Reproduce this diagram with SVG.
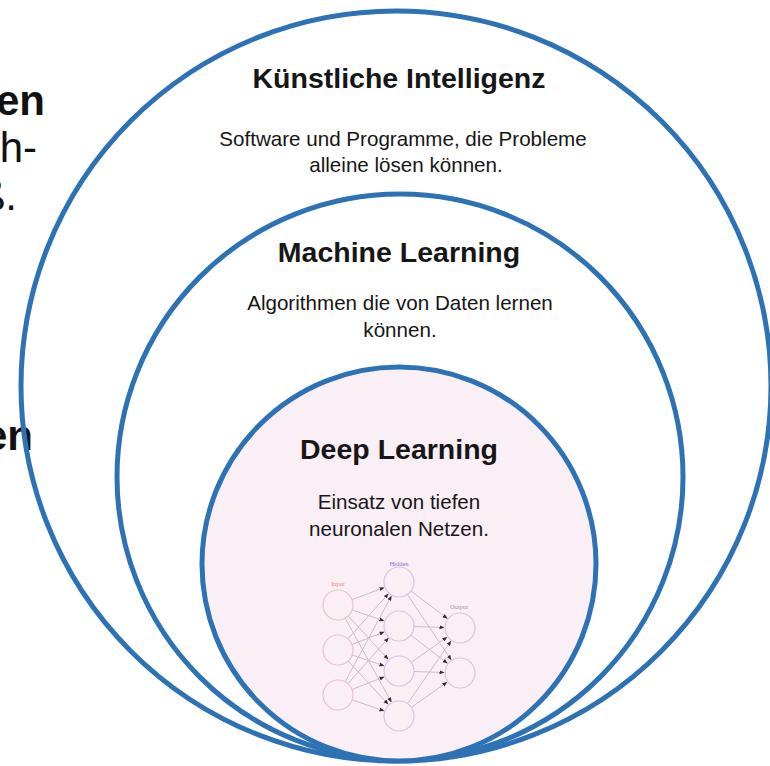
<svg xmlns="http://www.w3.org/2000/svg" width="770" height="766" viewBox="0 0 770 766">
<defs>
<style>
.t{font-family:"Liberation Sans",Arial,sans-serif;fill:#161616;text-anchor:middle}
.h{font-weight:bold;font-size:28.5px}
.s{font-size:20.6px}
.side{font-family:"Liberation Sans",Arial,sans-serif;fill:#111;font-size:42px;text-anchor:end}
.ring{fill:none;stroke:#2e72b6;stroke-width:5}
.e{stroke:#c4c1c3;stroke-width:1;fill:none;marker-end:url(#ah)}
.nl{font-family:"Liberation Serif","Times New Roman",serif;font-size:6.5px;text-anchor:middle}
</style>
<marker id="ah" viewBox="0 0 10 10" refX="9" refY="5" markerWidth="5" markerHeight="5" orient="auto" markerUnits="userSpaceOnUse">
<path d="M0,1 L10,5 L0,9 z" fill="#2e2e2e"/>
</marker>
</defs>
<rect width="770" height="766" fill="#ffffff"/>
<g id="side-text">
<text class="side" x="45" y="115" font-weight="bold">en</text>
<text class="side" x="37" y="162">ch-</text>
<text class="side" x="17" y="210">ß.</text>
<text class="side" x="33" y="450" font-weight="bold">en</text>
</g>
<g id="node-ki">
<circle class="ring" cx="396" cy="386" r="375"/>
<text class="t h" x="399" y="88">Künstliche Intelligenz</text>
<text class="t s" x="403" y="146">Software und Programme, die Probleme</text>
<text class="t s" x="406" y="172">alleine lösen können.</text>
</g>
<g id="node-ml">
<circle class="ring" cx="400" cy="477" r="283"/>
<text class="t h" x="399" y="262">Machine Learning</text>
<text class="t s" x="400" y="310">Algorithmen die von Daten lernen</text>
<text class="t s" x="400" y="337">können.</text>
</g>
<g id="node-dl">
<circle cx="399" cy="564" r="197" fill="#fbeff6" stroke="#2e72b6" stroke-width="5"/>
<text class="t h" x="399" y="459">Deep Learning</text>
<text class="t s" x="399" y="509">Einsatz von tiefen</text>
<text class="t s" x="399" y="536">neuronalen Netzen.</text>
</g>
<g id="connectors">
<line class="e" x1="352.0" y1="599.7" x2="384.0" y2="587.6"/>
<line class="e" x1="352.2" y1="609.9" x2="383.9" y2="620.8"/>
<line class="e" x1="348.2" y1="616.0" x2="388.1" y2="659.2"/>
<line class="e" x1="345.2" y1="618.1" x2="391.3" y2="702.0"/>
<line class="e" x1="348.0" y1="638.8" x2="388.3" y2="593.9"/>
<line class="e" x1="352.0" y1="644.5" x2="384.1" y2="631.9"/>
<line class="e" x1="352.2" y1="654.9" x2="383.9" y2="665.8"/>
<line class="e" x1="348.2" y1="661.0" x2="388.1" y2="704.2"/>
<line class="e" x1="345.1" y1="681.8" x2="391.4" y2="596.1"/>
<line class="e" x1="347.9" y1="683.8" x2="388.4" y2="638.0"/>
<line class="e" x1="352.0" y1="689.5" x2="384.1" y2="676.9"/>
<line class="e" x1="352.2" y1="699.9" x2="383.9" y2="710.8"/>
<line class="e" x1="411.0" y1="591.0" x2="447.2" y2="618.4"/>
<line class="e" x1="407.4" y1="594.5" x2="451.1" y2="659.7"/>
<line class="e" x1="414.0" y1="626.5" x2="444.0" y2="627.5"/>
<line class="e" x1="410.9" y1="635.2" x2="447.3" y2="663.2"/>
<line class="e" x1="411.3" y1="662.4" x2="446.9" y2="637.2"/>
<line class="e" x1="414.0" y1="671.5" x2="444.0" y2="672.5"/>
<line class="e" x1="407.5" y1="703.7" x2="450.9" y2="641.1"/>
<line class="e" x1="411.3" y1="707.4" x2="446.9" y2="682.2"/>
</g>
<g id="nn-input" fill="none" stroke="#e9c3c6" stroke-width="1.2">
<circle cx="338" cy="605" r="15"/>
<circle cx="338" cy="650" r="15"/>
<circle cx="338" cy="695" r="15"/>
<text class="nl" x="338" y="586" fill="#e08a8a" stroke="none">Input</text>
</g>
<g id="nn-hidden" fill="none" stroke="#cfc6e6" stroke-width="1.2">
<circle cx="399" cy="582" r="15"/>
<circle cx="399" cy="626" r="15"/>
<circle cx="399" cy="671" r="15"/>
<circle cx="399" cy="716" r="15"/>
<text class="nl" x="399" y="566" fill="#7a72c8" stroke="none">Hidden</text>
</g>
<g id="nn-output" fill="none" stroke="#cfcdcf" stroke-width="1.2">
<circle cx="460" cy="628" r="15"/>
<circle cx="460" cy="673" r="15"/>
<text class="nl" x="459" y="609" fill="#9a9a9a" stroke="none">Output</text>
</g>
</svg>
